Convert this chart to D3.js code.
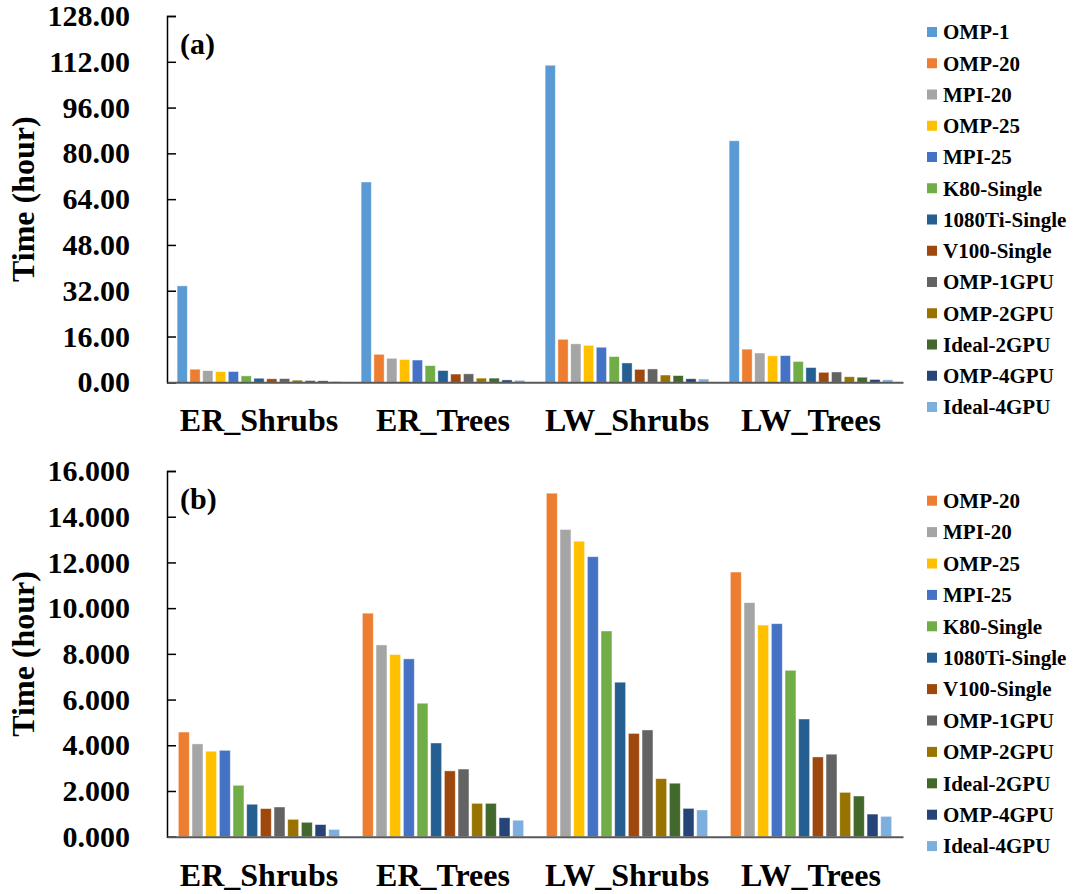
<!DOCTYPE html>
<html>
<head>
<meta charset="utf-8">
<script src="https://cdn.jsdelivr.net/npm/d3@7"></script>
<style>
  body { margin: 0; background: #fff; }
  text { font-family: "Liberation Serif", "Times New Roman", serif; font-weight: bold; }
</style>
</head>
<body>
<div id="d3-container"></div>
<script>
const categories = ["ER_Shrubs", "ER_Trees", "LW_Shrubs", "LW_Trees"];

const seriesNames = ["OMP-1", "OMP-20", "MPI-20", "OMP-25", "MPI-25", "K80-Single",
    "1080Ti-Single", "V100-Single", "OMP-1GPU", "OMP-2GPU", "Ideal-2GPU", "OMP-4GPU", "Ideal-4GPU"];

const seriesColors = ["#5B9BD5", "#ED7D31", "#A5A5A5", "#FFC000", "#4472C4", "#70AD47",
    "#255E91", "#9E480E", "#636363", "#997300", "#43682B", "#264478", "#7CAFDD"];

// hours, one value per category
const omp1      = [33.7, 70.0, 110.8, 84.4];
const omp20     = [4.58, 9.78, 15.03, 11.58];
const mpi20     = [4.06, 8.39, 13.44, 10.24];
const omp25     = [3.74, 7.97, 12.93, 9.26];
const mpi25     = [3.78, 7.78, 12.25, 9.32];
const k80       = [2.25, 5.84, 9.00, 7.28];
const gtx1080ti = [1.42, 4.10, 6.76, 5.15];
const v100      = [1.23, 2.88, 4.52, 3.49];
const omp1gpu   = [1.30, 2.96, 4.67, 3.61];
const omp2gpu   = [0.76, 1.46, 2.54, 1.94];
const ideal2gpu = [0.63, 1.46, 2.34, 1.78];
const omp4gpu   = [0.53, 0.83, 1.24, 0.99];
const ideal4gpu = [0.32, 0.72, 1.17, 0.89];

const seriesValues = [omp1, omp20, mpi20, omp25, mpi25, k80, gtx1080ti, v100,
    omp1gpu, omp2gpu, ideal2gpu, omp4gpu, ideal4gpu];

const ticksA = [0, 16, 32, 48, 64, 80, 96, 112, 128];
const ticksB = [0, 2, 4, 6, 8, 10, 12, 14, 16];

const width = 1073;
const height = 894;

const svg = d3.select('#d3-container')
    .append('svg')
    .attr('width', width)
    .attr('height', height);

function drawPanel(opts) {
    const series = seriesNames.slice(opts.first);
    const g = svg.append('g');

    const x0 = d3.scaleBand()
        .domain(categories)
        .range([167, 903])
        .padding(0);

    const x1 = d3.scaleBand()
        .domain(series)
        .range([0, x0.bandwidth()])
        .paddingInner(0.2)
        .paddingOuter(opts.outer);

    const y = d3.scaleLinear()
        .domain([0, opts.max])
        .range([opts.bottom, opts.top]);

    const color = d3.scaleOrdinal().domain(seriesNames).range(seriesColors);

    const rows = [];
    series.forEach(s => {
        const vals = seriesValues[seriesNames.indexOf(s)];
        categories.forEach((c, i) => rows.push({series: s, cat: c, value: vals[i]}));
    });

    g.selectAll('.bar')
        .data(rows)
        .enter()
        .append('rect')
        .attr('class', 'bar')
        .attr('x', d => x0(d.cat) + x1(d.series))
        .attr('y', d => y(d.value))
        .attr('width', x1.bandwidth())
        .attr('height', d => y(0) - y(d.value))
        .attr('fill', d => color(d.series))
        .attr('stroke', 'rgba(255,255,255,0.55)')
        .attr('stroke-width', 0.8);

    // y axis
    const yAxis = g.append('g')
        .attr('transform', 'translate(167,0)')
        .call(d3.axisLeft(y).tickValues(opts.ticks).tickFormat(d3.format(opts.fmt))
            .tickSize(-9).tickPadding(37));
    yAxis.select('.domain').attr('stroke', '#000').attr('stroke-width', 1.5);
    yAxis.selectAll('.tick line').attr('stroke', '#000').attr('stroke-width', 1.5);
    yAxis.selectAll('.tick text')
        .attr('fill', '#000')
        .style('font-size', '30px')
        .style('font-family', '"Liberation Serif", "Times New Roman", serif')
        .style('font-weight', 'bold');

    // x axis baseline and labels
    const xAxis = g.append('g')
        .attr('transform', `translate(0,${y(0)})`)
        .call(d3.axisBottom(x0).tickSize(0).tickPadding(0));
    xAxis.select('.domain').attr('stroke', '#595959').attr('stroke-width', 2);
    xAxis.selectAll('.tick text')
        .attr('y', 49)
        .attr('dy', 0)
        .attr('fill', '#000')
        .style('font-size', '32px')
        .style('font-family', '"Liberation Serif", "Times New Roman", serif')
        .style('font-weight', 'bold');

    g.append('text')
        .attr('transform', `translate(34,${(opts.top + opts.bottom) / 2}) rotate(-90)`)
        .attr('text-anchor', 'middle')
        .style('font-size', '32px')
        .text('Time (hour)');

    g.append('text')
        .attr('x', 180)
        .attr('y', opts.top + 38)
        .style('font-size', '30px')
        .text(opts.label);

    // legend
    const legend = g.selectAll('.legend')
        .data(series)
        .enter()
        .append('g')
        .attr('class', 'legend')
        .attr('transform', (d, i) => `translate(927,${opts.legendTop + i * opts.legendStep})`);
    legend.append('rect')
        .attr('x', 0)
        .attr('y', -5)
        .attr('width', 10)
        .attr('height', 10)
        .attr('fill', d => color(d));
    legend.append('text')
        .attr('x', 16)
        .attr('dy', '0.35em')
        .style('font-size', '21px')
        .text(d => d);
}

drawPanel({first: 0, max: 128, top: 16, bottom: 382.3, ticks: ticksA, fmt: '.2f',
    outer: 0.79, label: '(a)', legendTop: 32, legendStep: 31.25});
drawPanel({first: 1, max: 16, top: 471, bottom: 836.7, ticks: ticksB, fmt: '.3f',
    outer: 0.83, label: '(b)', legendTop: 500.7, legendStep: 31.4});
</script>
</body>
</html>
